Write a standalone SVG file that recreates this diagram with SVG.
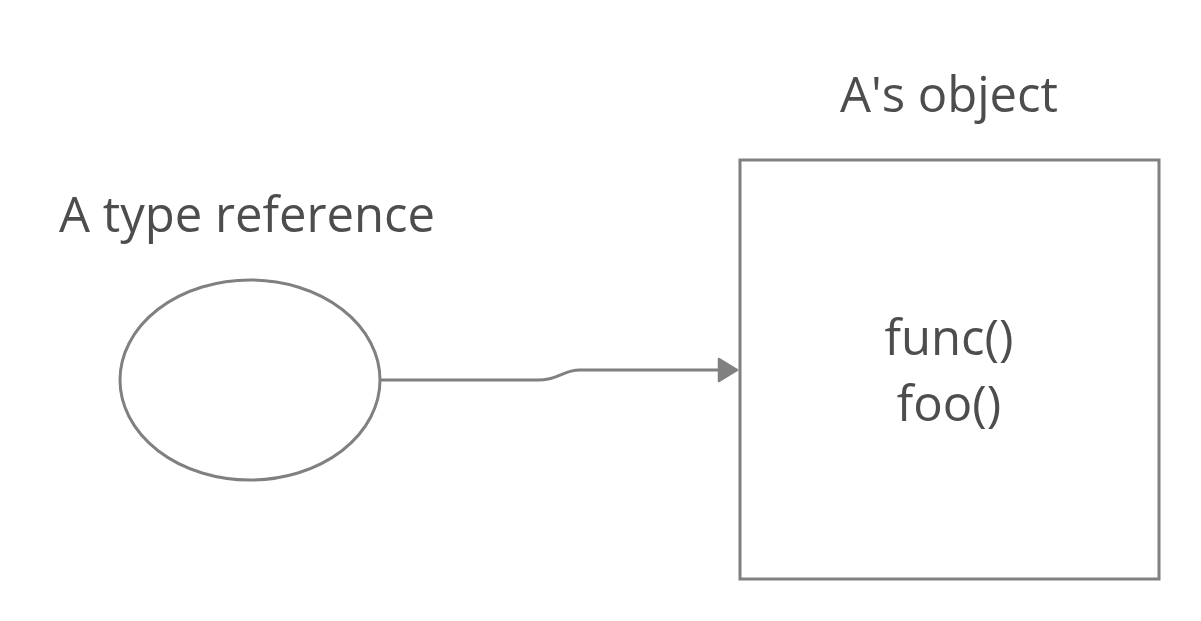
<svg xmlns="http://www.w3.org/2000/svg" width="1201" height="621" viewBox="0 0 1201 621">
<defs>
<style>
.shape{fill:#ffffff;stroke:#808080;stroke-width:3}
.lbl{font-family:"Open Sans","Noto Sans",sans-serif;font-size:49px;fill:#4d4d4d}
.conn{fill:none;stroke:#808080;stroke-width:3}
</style>
<marker id="arrow" markerWidth="24" markerHeight="26" refX="19" refY="13" orient="auto" markerUnits="userSpaceOnUse">
<path d="M2,2 L20,13 L2,24 Z" fill="#808080" stroke="#808080" stroke-width="2.5" stroke-linejoin="round"/>
</marker>
</defs>
<rect width="1201" height="621" fill="#ffffff"/>
<g id="reference">
<ellipse class="shape" cx="250" cy="380" rx="130" ry="100"/>
<text class="lbl" x="59" y="232">A type reference</text>
</g>
<g id="object">
<rect class="shape" x="740" y="160" width="419" height="419"/>
<text class="lbl" x="949" y="112" text-anchor="middle">A's object</text>
<text class="lbl" x="949" y="355" text-anchor="middle">func()</text>
<text class="lbl" x="949" y="421" text-anchor="middle">foo()</text>
</g>
<g id="connectors">
<path class="conn" d="M381,380 L538,380 C560,380 562,370 580,370 L736,370" marker-end="url(#arrow)"/>
</g>
</svg>
